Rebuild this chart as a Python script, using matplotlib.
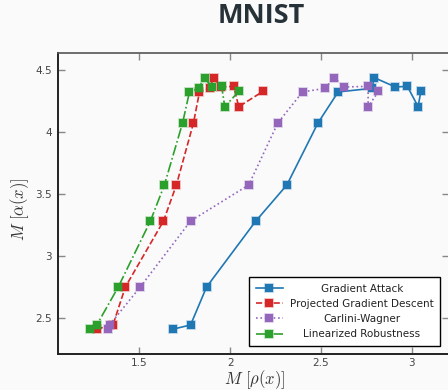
import matplotlib
matplotlib.use("Agg")
import matplotlib.pyplot as plt

plt.rcParams["mathtext.fontset"] = "cm"

# shared M[alpha(x)] values (same for every attack)
alpha_vals = [2.411, 2.444, 2.75, 3.282, 3.573, 4.073, 4.323, 4.352, 4.438, 4.363, 4.368, 4.204, 4.327]

# M[rho(x)] values per attack
rho_gradient = [1.688, 1.782, 1.870, 2.141, 2.312, 2.483, 2.594, 2.780, 2.793, 2.909, 2.975, 3.034, 3.049]
rho_pgd = [1.266, 1.355, 1.423, 1.633, 1.704, 1.798, 1.831, 1.887, 1.909, 1.950, 2.019, 2.047, 2.180]
rho_cw = [1.330, 1.336, 1.505, 1.782, 2.102, 2.262, 2.398, 2.522, 2.572, 2.627, 2.759, 2.759, 2.816]
rho_linear = [1.229, 1.266, 1.384, 1.561, 1.638, 1.738, 1.776, 1.826, 1.859, 1.898, 1.953, 1.970, 2.047]

labels = ["Gradient Attack", "Projected Gradient Descent", "Carlini-Wagner", "Linearized Robustness"]
colors = ["#1f77b4", "#d62728", "#9467bd", "#2ca02c"]
styles = ["-", "--", ":", "-."]

W, H = 448, 390
bg = "#fafafa"
fig = plt.figure(figsize=(W / 100, H / 100), dpi=100, facecolor=bg)
ax = fig.add_axes([58 / W, 1 - 354 / H, 391 / W, (354 - 53) / H])
ax.set_facecolor(bg)

series = [rho_gradient, rho_pgd, rho_cw, rho_linear]
for xs, lab, c, ls in zip(series, labels, colors, styles):
    ax.plot(xs, alpha_vals, linestyle=ls, color=c, linewidth=1.2, marker="s",
            markersize=6, markerfacecolor=c, markeredgecolor=c + "55",
            markeredgewidth=1.2, label=lab)

ax.set_xlim(1.0525, 3.204)
ax.set_ylim(2.2097, 4.637)
ax.set_xticks([1.5, 2, 2.5, 3])
ax.set_xticklabels(["1.5", "2", "2.5", "3"])
ax.set_yticks([2.5, 3, 3.5, 4, 4.5])
ax.set_yticklabels(["2.5", "3", "3.5", "4", "4.5"])
ax.tick_params(direction="in", length=5, width=1, color="#888888",
               labelsize=7.5, labelcolor="#444444", top=True, right=True)
ax.tick_params(axis="x", pad=3)
ax.tick_params(axis="y", pad=4.5)

for s in ["left", "bottom"]:
    ax.spines[s].set_linewidth(1.4)
    ax.spines[s].set_color("#222222")
ax.spines["top"].set_linewidth(1.2)
ax.spines["top"].set_color("#555555")
ax.spines["right"].set_visible(False)

# axis labels placed in figure pixels
fig.text(255 / W, 1 - 380 / H, r"$M\ [\rho(x)]$", ha="center", va="center",
         fontsize=12, color="#333333")
fig.text(20 / W, 1 - 209 / H, r"$M\ [\alpha(x)]$", ha="center", va="center",
         fontsize=12, color="#333333", rotation=90)

fig.text(261 / W, 1 - 16 / H, "MNIST", ha="center", va="center", fontsize=19.5,
         fontweight="bold", color="#263238", family="Open Sans")

leg = ax.legend(loc="lower right", bbox_to_anchor=(0.977, 0.028), fontsize=7.5,
                fancybox=False, edgecolor="black", framealpha=1, numpoints=1,
                handlelength=2.6, handletextpad=0.7, borderpad=0.6,
                labelspacing=0.5, borderaxespad=0)
leg.get_frame().set_linewidth(1.0)

# center the legend labels in their column
fig.canvas.draw()
renderer = fig.canvas.get_renderer()
widths = [t.get_window_extent(renderer).width for t in leg.get_texts()]
maxw = max(widths)
for t, w in zip(leg.get_texts(), widths):
    t.set_position(((maxw - w) / 2, 0))
    t.set_color("#222222")

fig.savefig("out.png", dpi=100, facecolor=bg)
